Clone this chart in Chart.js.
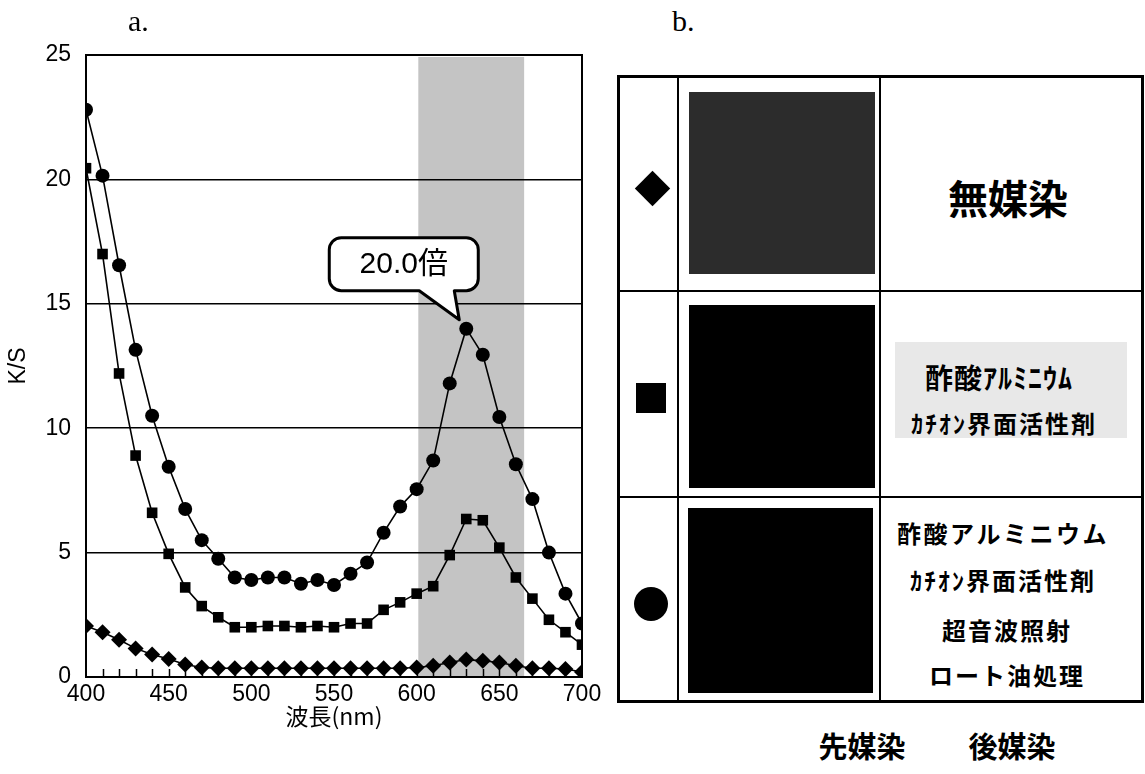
<!DOCTYPE html>
<html><head><meta charset="utf-8">
<script src="https://cdn.jsdelivr.net/npm/chart.js@4/dist/chart.umd.min.js"></script>
<style>
html,body{margin:0;padding:0;background:#fff;}
body{width:1145px;height:774px;overflow:hidden;position:relative;font-family:"Noto Sans CJK JP",sans-serif;color:#000;}
#wrap{position:absolute;left:0;top:0;width:610px;height:774px;}
.a{position:absolute;}
.lbl{position:absolute;font-family:"Liberation Serif","DejaVu Serif",serif;font-size:30px;line-height:30px;}
.t{position:absolute;white-space:nowrap;font-weight:bold;transform:translate(-50%,-50%);line-height:1;}
</style></head><body>
<div id="wrap"><canvas id="c" width="610" height="774"></canvas></div>
<div class="lbl" style="left:128px;top:6px;">a.</div>
<div class="lbl" style="left:672px;top:6px;">b.</div>

<!-- table -->
<div class="a" style="left:617px;top:75px;width:527px;height:628px;border:3px solid #000;box-sizing:border-box;"></div>
<div class="a" style="left:677px;top:75px;width:2px;height:628px;background:#000;"></div>
<div class="a" style="left:879px;top:75px;width:2px;height:628px;background:#000;"></div>
<div class="a" style="left:617px;top:290px;width:527px;height:2px;background:#000;"></div>
<div class="a" style="left:617px;top:496px;width:527px;height:2px;background:#000;"></div>

<div class="a" style="left:689px;top:92px;width:186px;height:182px;background:#2c2c2c;"></div>
<div class="a" style="left:689px;top:305px;width:186px;height:183px;background:#000;"></div>
<div class="a" style="left:688px;top:508px;width:185px;height:185px;background:#000;"></div>

<div class="a" style="left:640px;top:176px;width:25px;height:25px;background:#000;transform:rotate(45deg);"></div>
<div class="a" style="left:636px;top:383px;width:30px;height:30px;background:#000;"></div>
<div class="a" style="left:634px;top:587px;width:34px;height:34px;border-radius:50%;background:#000;"></div>

<div class="t" style="left:1008px;top:197px;font-size:40px;">無媒染</div>

<div class="a" style="left:895px;top:342px;width:232px;height:96px;background:#e8e8e8;"></div>
<div class="t" style="left:999px;top:377px;font-size:28px;letter-spacing:1px;">酢酸ｱﾙﾐﾆｳﾑ</div>
<div class="t" style="left:1004px;top:423px;font-size:24px;letter-spacing:2px;">ｶﾁｵﾝ界面活性剤</div>

<div class="t" style="left:1003px;top:533px;font-size:24px;letter-spacing:2.5px;">酢酸アルミニウム</div>
<div class="t" style="left:1003px;top:580px;font-size:24px;letter-spacing:2px;">ｶﾁｵﾝ界面活性剤</div>
<div class="t" style="left:1007px;top:630px;font-size:24px;letter-spacing:2px;">超音波照射</div>
<div class="t" style="left:1007px;top:675px;font-size:24px;letter-spacing:2px;">ロート油処理</div>

<div class="t" style="left:862px;top:745px;font-size:29px;letter-spacing:0px;">先媒染</div>
<div class="t" style="left:1012px;top:745px;font-size:29px;letter-spacing:0px;">後媒染</div>

<script>
// ---- data ----
const wavelengths = [400,410,420,430,440,450,460,470,480,490,500,510,520,530,540,550,560,570,580,590,600,610,620,630,640,650,660,670,680,690,700];
const seriesNoMordant = [2.05,1.8,1.5,1.15,0.9,0.72,0.5,0.38,0.35,0.35,0.35,0.35,0.35,0.35,0.35,0.35,0.35,0.35,0.35,0.35,0.38,0.45,0.58,0.7,0.65,0.58,0.45,0.35,0.35,0.32,0.2];
const seriesAlCation = [20.45,17.0,12.2,8.9,6.6,4.95,3.6,2.85,2.4,2.0,2.0,2.05,2.05,2.0,2.05,2.0,2.15,2.15,2.7,3.0,3.35,3.65,4.9,6.35,6.3,5.2,4.0,3.15,2.3,1.8,1.3];
const seriesFull = [22.8,20.15,16.55,13.15,10.5,8.45,6.75,5.5,4.75,4.0,3.9,4.0,4.0,3.75,3.9,3.7,4.15,4.6,5.8,6.85,7.55,8.7,11.8,14.0,12.95,10.45,8.55,7.15,5.0,3.35,2.15];
const xTickValues = [400,450,500,550,600,650,700];
const yTickValues = [0,5,10,15,20,25];
const bandRange = [601,665];
const calloutPoint = [630,14.0];
const calloutText = '20.0倍';
const xTitle = '波長(nm)';
const yTitle = 'K/S';

const toXY = arr => wavelengths.map((w,i)=>({x:w,y:arr[i]}));
const ds = (arr, style, r) => ({
  data: toXY(arr), borderColor:'#000', borderWidth:1.6, backgroundColor:'#000',
  pointStyle: style, pointRadius: r, pointHoverRadius: r, pointBackgroundColor:'#000',
  pointBorderColor:'#000', pointBorderWidth:0, tension:0, fill:false
});

const decor = {
  id:'decor',
  beforeDraw(chart){
    const {ctx, chartArea:a, scales:{x}} = chart;
    const x1 = x.getPixelForValue(bandRange[0]), x2 = x.getPixelForValue(bandRange[1]);
    ctx.save();
    ctx.fillStyle = '#c4c4c4';
    ctx.fillRect(x1, a.top+2, x2-x1, a.bottom-a.top-2);
    ctx.restore();
  },
  afterDatasetsDraw(chart){
    const {ctx, chartArea:a, scales:{x,y}} = chart;
    ctx.save();
    ctx.strokeStyle = '#000';
    ctx.lineWidth = 2;
    ctx.strokeRect(a.left, a.top, a.right-a.left, a.bottom-a.top);
    ctx.lineWidth = 1.5;
    ctx.beginPath();
    for (let i=1;i<wavelengths.length-1;i++){
      const px = Math.round(x.getPixelForValue(wavelengths[i]))+0.5;
      ctx.moveTo(px, a.bottom); ctx.lineTo(px, a.bottom-8);
    }
    ctx.stroke();
    // callout
    const px = x.getPixelForValue(calloutPoint[0]), py = y.getPixelForValue(calloutPoint[1]);
    const tx = px-7, ty = py-9;
    const L = tx-130, R = tx+19, T = ty-82, B = ty-29, r = 12;
    ctx.beginPath();
    ctx.moveTo(L+r,T); ctx.lineTo(R-r,T); ctx.arcTo(R,T,R,T+r,r);
    ctx.lineTo(R,B-r); ctx.arcTo(R,B,R-r,B,r);
    ctx.lineTo(tx-5,B); ctx.lineTo(tx,ty); ctx.lineTo(tx-40,B);
    ctx.lineTo(L+r,B); ctx.arcTo(L,B,L,B-r,r);
    ctx.lineTo(L,T+r); ctx.arcTo(L,T,L+r,T,r); ctx.closePath();
    ctx.fillStyle='#fff'; ctx.fill();
    ctx.lineWidth=3; ctx.lineJoin='round'; ctx.stroke();
    ctx.fillStyle='#000';
    ctx.font = '30px "Liberation Sans", "Noto Sans CJK JP", sans-serif';
    ctx.textAlign='center'; ctx.textBaseline='middle';
    ctx.fillText(calloutText, (L+R)/2, (T+B)/2+1);
    ctx.restore();
  }
};

new Chart(document.getElementById('c'), {
  type:'line',
  data:{ datasets:[ ds(seriesNoMordant,'rectRot',8), ds(seriesAlCation,'rect',7.5), ds(seriesFull,'circle',7) ] },
  options:{
    responsive:false, animation:false,
    layout:{padding:{left:0,top:55,right:28,bottom:0}},
    plugins:{legend:{display:false}, tooltip:{enabled:false}},
    scales:{
      x:{type:'linear', min:400, max:700,
        afterBuildTicks: s => { s.ticks = xTickValues.map(v=>({value:v})); },
        afterFit: s => { s.height = 97; s.paddingLeft = 0; s.paddingRight = 0; },
        grid:{display:false}, border:{display:false},
        ticks:{color:'#000', font:{family:'"Liberation Sans", Arial, sans-serif', size:23}, padding:-4, maxRotation:0, autoSkip:false},
        title:{display:true, text:xTitle, color:'#000', font:{family:'"Noto Sans CJK JP", sans-serif', size:23}, padding:{top:0,bottom:44}}
      },
      y:{min:0, max:25,
        afterBuildTicks: s => { s.ticks = yTickValues.map(v=>({value:v})); },
        afterFit: s => { s.width = 86; s.paddingTop = 0; s.paddingBottom = 0; },
        grid:{color:'#000', lineWidth:1.5, drawTicks:false}, border:{display:false},
        ticks:{color:'#000', font:{family:'"Liberation Sans", Arial, sans-serif', size:23}, padding:15},
        title:{display:true, text:yTitle, color:'#000', font:{family:'"Liberation Sans", Arial, sans-serif', size:23}, padding:{top:5,bottom:0}}
      }
    }
  },
  plugins:[decor]
});
</script>
</body></html>
